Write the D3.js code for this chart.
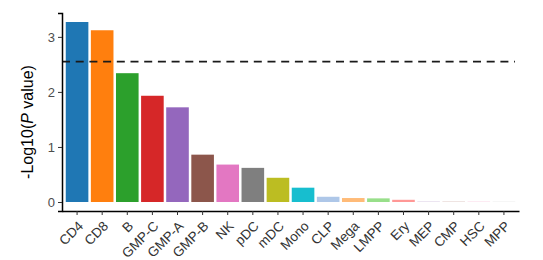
<!DOCTYPE html>
<html>
<head>
<meta charset="utf-8">
<script src="https://cdn.jsdelivr.net/npm/d3@7"></script>
<style>
  body { margin: 0; background: #fff; }
  text { font-family: "Liberation Sans", Arial, sans-serif; }
</style>
</head>
<body>
<div id="chart"></div>
<script>
// cell types, in plotted order
var cellTypes = ["CD4", "CD8", "B", "GMP-C", "GMP-A", "GMP-B", "NK", "pDC", "mDC", "Mono",
                 "CLP", "Mega", "LMPP", "Ery", "MEP", "CMP", "HSC", "MPP"];
// -log10(P value)
var logP = [3.27, 3.12, 2.34, 1.93, 1.72, 0.86, 0.68, 0.62, 0.44, 0.26,
            0.095, 0.072, 0.066, 0.04, 0.006, 0.005, 0.005, 0.003];
var barColors = ["#1f77b4", "#ff7f0e", "#2ca02c", "#d62728", "#9467bd", "#8c564b", "#e377c2", "#7f7f7f", "#bcbd22", "#17becf",
                 "#aec7e8", "#ffbb78", "#98df8a", "#ff9896", "#c5b0d5", "#c49c94", "#f7b6d2", "#c7c7c7"];
var yTicks = [0, 1, 2, 3];
var threshold = 2.55;

var width = 543, height = 260;
// panel edges (don't use "top", it is window.top)
var plotLeft = 62, plotRight = 519, plotTop = 13, plotBottom = 211;

var svg = d3.select("#chart").append("svg")
    .attr("width", width)
    .attr("height", height);

var x = d3.scaleBand()
    .domain(cellTypes)
    .range([plotLeft, plotRight])
    .paddingInner(0.1)
    .paddingOuter(0.15);

var yMax = d3.max(logP);
var y = d3.scaleLinear()
    .domain([-0.05 * yMax, yMax * 1.05])
    .range([plotBottom, plotTop]);

// bars
svg.selectAll(".bar")
    .data(cellTypes)
    .enter().append("rect")
    .attr("class", "bar")
    .attr("x", function (d) { return x(d); })
    .attr("width", x.bandwidth())
    .attr("y", function (d, i) { return y(logP[i]); })
    .attr("height", function (d, i) { return y(0) - y(logP[i]); })
    .style("fill", function (d, i) { return barColors[i]; });

// threshold line
svg.append("line")
    .attr("x1", plotLeft)
    .attr("x2", plotRight - 4)
    .attr("y1", y(threshold))
    .attr("y2", y(threshold))
    .style("stroke", "#1a1a1a")
    .style("stroke-width", 1.6)
    .style("stroke-dasharray", "8,5.7");

// y axis
var yAxis = svg.append("g")
    .attr("transform", "translate(" + plotLeft + ",0)")
    .call(d3.axisLeft(y).tickValues(yTicks).tickSize(4).tickPadding(3).tickFormat(d3.format("d")));
yAxis.select(".domain").style("stroke", "#000").style("stroke-width", 1.5);
yAxis.selectAll(".tick line").style("stroke", "#333");
yAxis.selectAll("text").style("font-size", "13px").style("fill", "#4d4d4d");

// x axis, labels at 45 degrees with their top-right corner under the tick
var xAxis = svg.append("g")
    .attr("transform", "translate(0," + plotBottom + ")")
    .call(d3.axisBottom(x).tickSize(4).tickSizeOuter(0));
xAxis.select(".domain").style("stroke", "#000").style("stroke-width", 1.5);
xAxis.selectAll(".tick line").style("stroke", "#333");
xAxis.selectAll("text")
    .style("font-size", "13.5px")
    .style("fill", "#333")
    .attr("text-anchor", "end")
    .attr("y", 0)
    .attr("dy", "0.72em")
    .attr("transform", "translate(0,9) rotate(-45)");

// y axis title
var title = svg.append("text")
    .attr("transform", "translate(33,122) rotate(-90)")
    .attr("text-anchor", "middle")
    .style("font-size", "16px")
    .style("fill", "#000");
title.append("tspan").text("-Log10(");
title.append("tspan").style("font-style", "italic").text("P");
title.append("tspan").text(" value)");
</script>
</body>
</html>
